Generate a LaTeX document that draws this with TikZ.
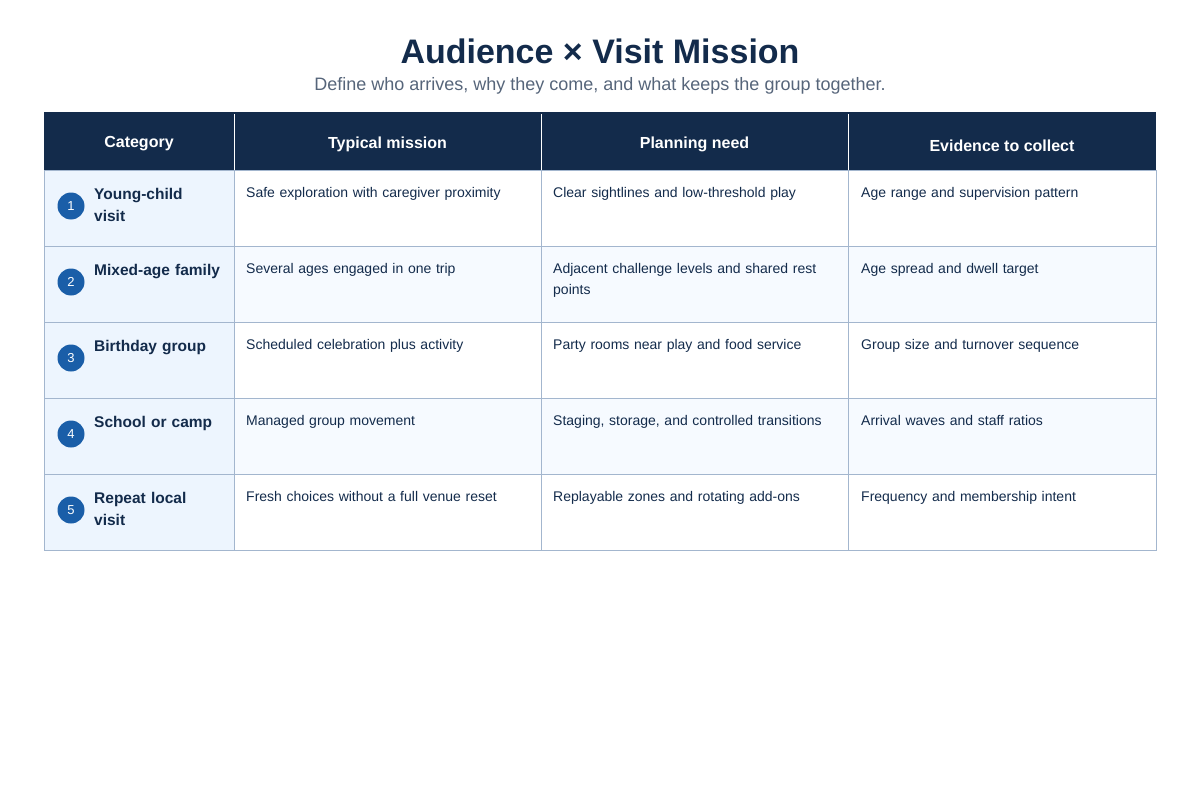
\documentclass[tikz,border=0pt]{standalone}
\usepackage{fontspec}
\setmainfont{Liberation Sans}
\usetikzlibrary{positioning}
\definecolor{cbnavy}{HTML}{132B4B}
\definecolor{cbgrey}{HTML}{56657A}
\definecolor{cbline}{HTML}{A3B6CE}
\definecolor{cbpale}{HTML}{EDF5FE}
\definecolor{cbrow}{HTML}{F6FAFF}
\definecolor{cbdot}{HTML}{1A5EA8}
\tikzset{
  head/.style = {text=white, font=\fontsize{16}{19}\selectfont\bfseries, align=center},
  cell/.style = {anchor=north west, text=cbnavy, font=\fontsize{14}{21}\selectfont, text width=285pt, align=left, inner sep=0pt},
  cat/.style = {anchor=north west, text=cbnavy, font=\fontsize{15.5}{22}\selectfont\bfseries, text width=135pt, align=left, inner sep=0pt},
  dot/.style = {circle, fill=cbdot, minimum size=27pt, inner sep=0pt, text=white, font=\fontsize{13}{13}\selectfont}
}
\begin{document}
\hyphenpenalty=10000
\begin{tikzpicture}[x=1pt, y=-1pt]
\useasboundingbox (0,0) rectangle (1200,800);

% ------------------------- title -------------------------
\node (title) at (600,51) {\fontsize{34}{40}\selectfont\bfseries\color{cbnavy}Audience × Visit Mission};
\node (sub) at (600,86) {\fontsize{18}{22}\selectfont\color{cbgrey}Define who arrives, why they come, and what keeps the group together.};

% ------------------------- header -------------------------
\fill[cbnavy] (44,112) rectangle (1156,170);
\foreach \x in {234,541,848} \draw[white, thin] (\x,114) -- (\x,170);
\node[head] (h1) at (139,144) {Category};
\node[head] (h2) at (387.5,144) {Typical mission};
\node[head] (h3) at (694.5,144) {Planning need};
\node[head] (h4) at (1002,146) {Evidence to collect};

% ------------------------- rows -------------------------
\foreach \i/\c/\m/\p/\e in {
  1/{Young-child\\visit}/{Safe exploration with caregiver proximity}/{Clear sightlines and low-threshold play}/{Age range and supervision pattern},
  2/{Mixed-age family}/{Several ages engaged in one trip}/{Adjacent challenge levels and shared rest points}/{Age spread and dwell target},
  3/{Birthday group}/{Scheduled celebration plus activity}/{Party rooms near play and food service}/{Group size and turnover sequence},
  4/{School or camp}/{Managed group movement}/{Staging, storage, and controlled transitions}/{Arrival waves and staff ratios},
  5/{Repeat local\\visit}/{Fresh choices without a full venue reset}/{Replayable zones and rotating add-ons}/{Frequency and membership intent}}{
  \pgfmathsetmacro{\top}{170+76*(\i-1)}
  \pgfmathtruncatemacro{\odd}{mod(\i,2)}
  \ifnum\odd=0 \fill[cbrow] (234,\top) rectangle (1156,\top+76); \fi
  \fill[cbpale] (44,\top) rectangle (234,\top+76);
  \draw[cbline] (44,\top) rectangle (234,\top+76) (234,\top) rectangle (541,\top+76)
    (541,\top) rectangle (848,\top+76) (848,\top) rectangle (1156,\top+76);
  \node[dot] (d\i) at (71,\top+36) {\i};
  \node[cat] (c\i) at (94,\top+18) {\c};
  \node[cell] (m\i) at (246,\top+17) {\m};
  \node[cell] (p\i) at (553,\top+17) {\p};
  \node[cell] (e\i) at (861,\top+17) {\e};
}
\end{tikzpicture}
\end{document}
